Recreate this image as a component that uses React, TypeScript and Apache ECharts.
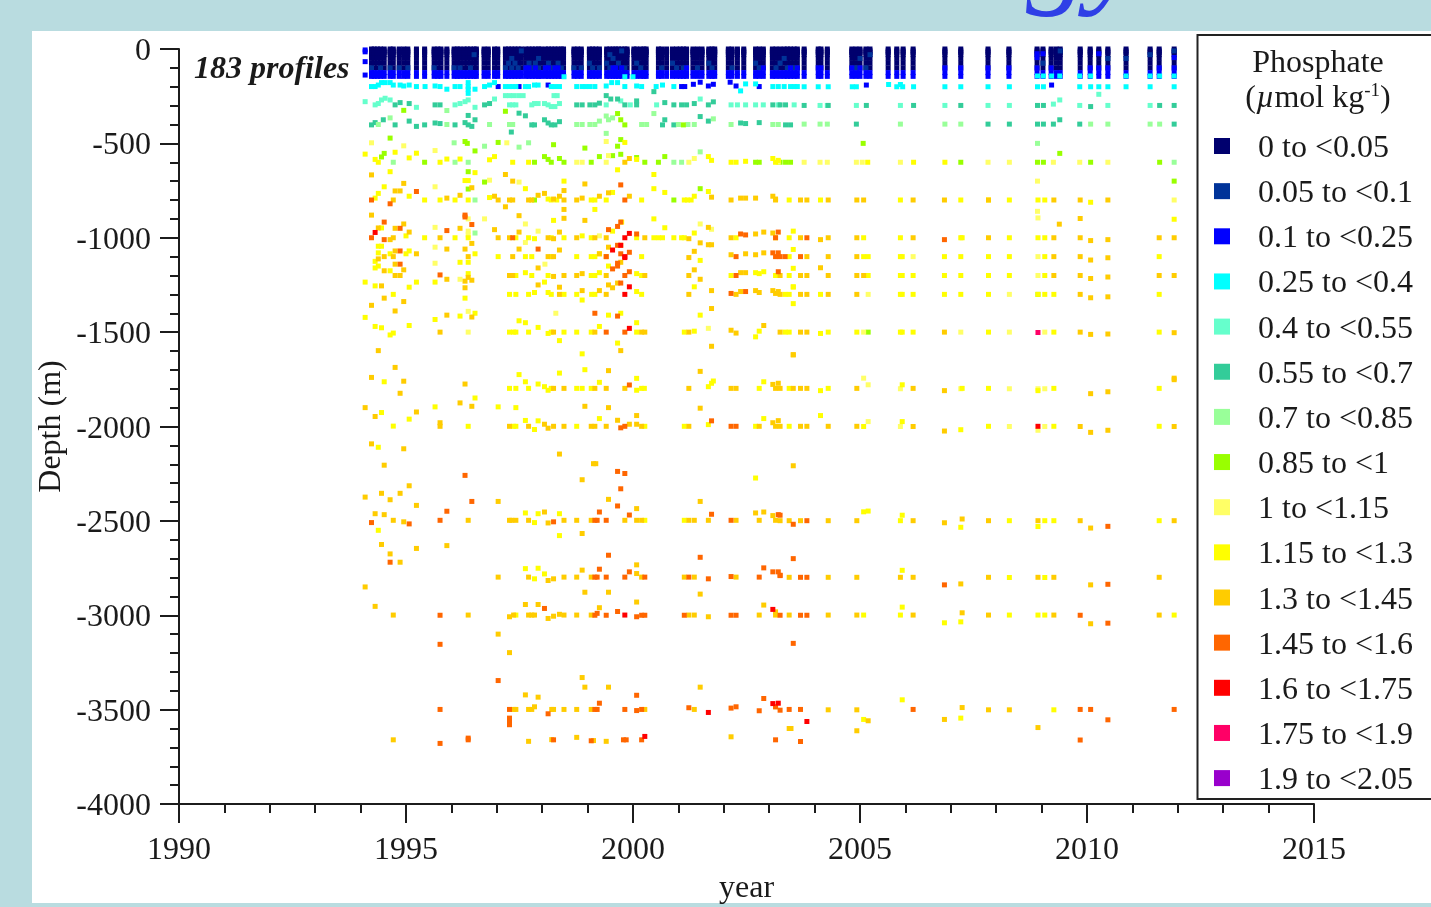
import React, { useEffect, useRef } from "react";
import * as echarts from "echarts";

const FONT = '"Liberation Serif", "Times New Roman", serif';

const legendNames = ["0 to <0.05","0.05 to <0.1","0.1 to <0.25","0.25 to <0.4","0.4 to <0.55","0.55 to <0.7","0.7 to <0.85","0.85 to <1","1 to <1.15","1.15 to <1.3","1.3 to <1.45","1.45 to <1.6","1.6 to <1.75","1.75 to <1.9","1.9 to <2.05"];
const legendColors = ["#00006e","#003399","#0000ff","#00ffff","#66ffcc","#33cc99","#99ff99","#99ff00","#ffff66","#ffff00","#ffcc00","#ff6600","#ff0000","#ff0066","#9900cc"];

// Year of each cast in the dense surface band
const castYears = [1994.24,1994.30,1994.37,1994.44,1994.52,1994.65,1994.72,1994.85,1994.95,1995.04,1995.23,1995.41,1995.62,1995.70,1995.77,1995.90,1996.06,1996.13,1996.19,1996.28,1996.35,1996.42,1996.50,1996.55,1996.72,1996.81,1996.95,1997.02,1997.19,1997.26,1997.33,1997.40,1997.47,1997.54,1997.64,1997.71,1997.78,1997.85,1997.92,1997.97,1998.07,1998.14,1998.21,1998.28,1998.35,1998.42,1998.47,1998.70,1998.78,1998.86,1999.04,1999.11,1999.18,1999.26,1999.42,1999.49,1999.56,1999.62,1999.68,1999.75,1999.82,1999.87,2000.02,2000.08,2000.17,2000.24,2000.29,2000.56,2000.63,2000.74,2000.87,2000.96,2001.04,2001.11,2001.18,2001.32,2001.42,2001.52,2001.67,2001.74,2001.80,2002.10,2002.18,2002.30,2002.44,2002.70,2002.78,2002.87,2003.07,2003.15,2003.24,2003.33,2003.40,2003.47,2003.55,2003.62,2003.77,2004.08,2004.14,2004.28,2004.82,2004.91,2005.00,2005.13,2005.22,2005.62,2005.81,2005.95,2006.17,2006.87,2007.22,2007.82,2008.28,2008.90,2009.03,2009.21,2009.32,2009.41,2009.85,2010.07,2010.26,2010.46,2010.86,2011.39,2011.59,2011.92];
const navyDepths = [0,-10,-20,-30,-50,-75,-100];
const blueDepths = [-125,-145];

// Rows are [depth, year, year, ...]
const navyRows: number[][] = [];
const darkBlueRows = [
  [-100,1994.24,1994.44,1994.65,1994.85,1995.04,1995.62,1996.06,1996.19,1996.42,1997.19,1997.33,1997.47,1997.64,1997.78,1997.92,1998.07,1998.21,1998.42,1998.70,1998.86,1999.11,1999.26,1999.49,1999.62,1999.82,2000.17,2000.63,2000.96,2001.11,2001.42,2001.74,2002.18,2002.78,2003.15,2003.40,2003.55,2004.91,2005.13],
  [-75,1997.26,1997.40,1997.71,1997.85,1998.14,1998.35,1999.04,1999.42,1999.68,2000.08,2000.87,2001.67,2002.70,2003.24,2009.03],
  [-50,1997.33,1997.92,1999.56,2003.33,2005.00,2010.46,2010.86],
  [-30,1996.50,1999.49,2005.22,2011.39],
  [-10,1997.54,1999.75,2009.41,2011.92],
];
const blueRows = [
  [-5,1994.10],[-15,1994.10],[-67,1994.10],[-138,1994.10],
  [-100,1997.64,1997.71,1997.85,1998.07,1998.14,1998.28,1998.35,1999.56,1999.62,1999.75,2001.18,2002.87,2003.47,2003.62,2004.08,2004.14,2004.82,2005.00,2006.87,2007.22,2007.82,2008.28,2008.90,2009.21,2010.07,2010.26,2010.46,2011.59,2011.92],
  [-25,2008.90,2009.03,2010.26],[-45,2008.90,2011.92],
  [-199,1997.03,1997.49,2001.07,2001.14,2002.78],[-191,1998.13,2009.22,2005.14],[-187,2001.33,2001.77],[-176,2001.48,2002.14],[-196,2001.66,2002.27],
];
const cyanRows = [
  [-199,1994.24,1994.32,1995.23,1995.42,1995.75,1996.08,1996.19,1996.37,1996.73,1997.19,1997.28,1997.35,1997.42,1997.63,1997.70,1998.20,1998.28,1998.38,1998.76,1998.88,1998.96,1999.05,1999.16,1999.82,2000.19,2000.51,2000.90,2003.08,2003.20,2003.33,2003.47,2003.55,2003.62],
  [-191,1994.39,1994.72,1994.87,1995.07,1996.84,1997.83,1997.91,2000.65],
  [-178,1994.46,1994.54,1994.65,1996.37,1996.95,1999.66,1999.53],
  [-196,1994.95,1995.64,1999.41,2000.08],
  [-213,1995.90,1996.52,1996.37],[-235,1996.37],[-222,2002.37],[-185,2002.48,2002.70],
  [-147,1998.48,1999.82,2000.00],
  [-200,2003.77,2004.08,2004.30,2004.83,2004.92,2005.81,2005.94,2006.18,2006.87,2007.22,2007.82,2008.29,2008.91,2009.04,2009.84,2010.08,2010.26,2010.46,2010.86,2011.39,2011.92],
  [-188,2005.63,2005.89],
  [-143,2008.91,2009.04,2009.22,2009.40,2009.84,2010.08,2010.86,2011.39,2011.60,2011.92],
];
const aquaRows = [
  [-279,1994.10,1996.30],[-296,1994.32,1996.08,1997.28,1997.35,1997.42,1997.77,1998.13,1999.41,1999.94,2000.52,2002.16,2002.30,2002.48,2002.70,2002.87,2003.20,2003.55],
  [-289,1994.39,1996.19,1997.83,1997.91,1998.05,1998.38],[-270,1994.46,1994.65,1996.37],[-261,1994.54],[-309,1995.23,1996.52],[-265,1996.95,2001.48],
  [-247,1997.19,1997.28,1997.37,1997.48,1997.58,1998.26,1998.33],[-305,1998.20,1998.28],[-275,1999.73],
  [-299,2004.12,2004.28,2004.92,2005.89,2006.87,2007.82,2008.29,2009.84,2010.46,2011.39],[-292,2009.26],[-270,2009.40],[-240,2010.26],
];
const tealRows = [
  [-296,1994.76,1995.64,1995.75,1996.73,1998.76,1998.88,1999.05,1999.16,1999.82,2000.08,2000.90,2001.07,2001.18,2001.66,2003.08,2003.24,2003.36],
  [-284,1994.87,2000.70],[-289,1995.07,1996.84,2001.35],[-340,1997.49],[-354,1997.63],[-287,1999.26],[-247,1999.41],[-265,1999.51,1999.66],[-275,2000.08],[-226,2000.46],[-280,2001.77],
  [-299,2003.77,2004.30,2005.14,2006.18,2007.22,2008.91,2009.04,2011.60,2011.92],[-305,2010.08],
  [-402,1994.24,1994.76,1995.41,1996.08,1996.37,1997.77,1997.83,1998.20,1998.28,2000.65,2000.90,2003.36,2003.47],[-390,1994.32,1996.30,2002.78],[-375,1994.50,1996.52,1998.05,2000.70],[-382,1995.07,2001.66],[-385,1998.38],[-410,1995.23,1996.45],[-392,1995.64,1998.13,2002.37],[-395,1995.75,2002.48],[-352,1996.37],[-440,1997.32],[-358,2001.48],
  [-398,2004.92,2007.82,2008.29,2008.91,2009.04,2009.26,2009.84,2011.92],[-375,2009.40],
];
const mintRows = [
  [-400,1994.39,1995.90,1996.84,1997.28,1997.35,1998.76,1998.88,1999.05,1999.16,2000.19,2000.30,2001.00,2001.21,2001.35,2002.16,2003.08,2003.20],
  [-365,1994.65],[-382,1999.26],[-355,1999.41],[-447,1999.41],[-375,1999.46],[-365,1999.55],[-342,2000.46],[-370,2001.77],[-600,1994.72,1996.08,1996.37,2000.90,2001.07],[-497,1996.06,1997.70],[-515,1996.73],[-520,1997.49],[-545,2001.48],[-800,1996.52],[-975,1996.52],[-326,1995.90],
  [-398,2003.77,2004.12,2004.28,2005.89,2006.87,2007.22,2010.08,2010.46,2011.39,2011.60],[-600,2011.92],[-500,2008.91],
];
const limeRows = [
  [-325,1994.95],[-330,1997.19],[-342,1999.66],[-375,1999.73],[-402,1999.82,2001.11],[-472,1994.65],[-553,1994.52],[-572,1994.46],[-600,1995.41,1997.83,1998.20,1998.48,1999.08,2000.26,2000.56,2002.70,2002.78,2003.24,2003.36,2003.47],[-540,1996.52],[-495,1997.03],[-570,1998.05,1999.26,2000.70],[-585,1998.13],[-580,1998.38],[-507,1998.25],[-525,1998.94],[-490,1996.30],[-500,1996.35],[-480,1999.73],[-515,1999.66],[-565,1999.55],[-558,1999.73],[-575,2000.08],[-650,1996.37],[-705,1996.73],[-742,1996.37],[-800,1997.83,2000.90],
  [-600,2007.22,2008.91,2009.04,2010.08,2011.60],[-553,2009.40],[-500,2005.07],[-700,2011.92],[-740,2001.48],[-1300,2008.92],[-1500,2005.18],
];
const paleRows = [
  [-497,1994.24,1997.22],[-513,1994.95],[-538,1995.64],[-600,1998.76,1998.88,1999.41,2001.23,2003.20],[-490,1999.41],[-565,1999.46],[-580,2001.35],[-695,1996.84],[-705,1997.49],[-730,1995.64],[-900,1996.37,1996.73],[-927,1997.63,2001.48],[-945,1995.64],[-965,1996.37,1997.91],[-955,2001.73],[-985,1996.37],[-1025,1997.63],[-990,1999.26],[-1050,1995.64],[-1135,1995.64],[-1140,1998.06],[-1220,1996.19],[-1390,1996.37],[-1400,1998.30],[-1480,2001.66],[-1500,1996.37],
  [-600,2003.77,2004.12,2004.28,2004.92,2005.05,2005.89,2007.82,2008.29,2009.26,2009.84,2010.46],[-860,2008.91],[-800,2011.92],[-895,2008.92],[-700,2008.91],[-1100,2006.17,2008.92],[-1200,2008.92],[-1300,2005.18,2008.29],[-1500,2005.08,2007.22,2008.29,2009.07],[-1744,2005.08],[-1779,2005.18],[-1800,2005.89,2007.22,2008.29,2008.92,2009.07],[-1974,2005.18],[-2000,2005.89,2008.29,2009.07],[-2020,2008.92],
];
const yellowRows = [
  [-557,1994.10],[-585,1994.32],[-600,1994.39,1995.75,1997.35,1997.70,2002.16,2002.27,2003.14],[-547,1994.76],[-577,1995.07],[-552,1995.23],[-583,1995.90,1996.19],[-587,1996.84],[-570,1996.95,2001.66],[-495,1999.82],[-585,2000.08],[-590,2001.73,2003.20],[-595,2002.48],[-580,2003.08],
  [-600,2005.17,2006.18,2006.87],
  [-650,1994.65],[-655,1996.52],[-697,1996.30,1996.37],[-640,1999.66],[-665,2000.46],[-700,1998.48],[-730,1994.52],[-765,1994.39],[-780,1995.07,2001.35],[-740,1997.63,2000.46],[-760,1999.55,2000.70],[-755,2001.66],
  [-790,1994.32],[-800,1995.41,1995.75,1996.08,1996.37,1998.20,1998.32,1999.08,1999.16,1999.41,2000.19,2001.13,2001.20,2001.28,2003.44,2004.13,2005.89,2007.22,2007.83,2008.29,2008.92,2009.07],[-787,1996.84],[-795,1998.13],[-812,2010.08],[-850,1999.16],[-908,1998.25],[-917,1999.75],[-900,2000.46],[-947,2000.70],[-948,1994.46],[-965,1999.55],
  [-1000,1995.41,1996.08,1996.37,1997.42,1997.70,1998.20,1998.48,1999.08,2000.08,2000.46,2000.56,2000.65,2000.90,2001.07,2001.13,2002.27,2003.14,2003.44,2005.08,2005.89,2007.22,2007.25,2008.29,2008.92,2009.07],[-1005,1997.83],[-990,1995.00,1998.88],[-975,2001.35],[-965,2003.53],[-902,2011.92],
  [-1045,1994.39,1994.46],[-1070,1995.07],[-1080,1994.39],[-1085,1994.65,1996.52,1999.26,1995.00],
  [-1100,1997.03,1997.63,1997.77,1998.20,1998.76,1999.08,1999.16,2000.19,2003.44,2005.08,2005.18,2005.89,2005.93,2006.86,2007.22,2007.83,2008.29,2009.07,2011.59],[-1125,1994.32],[-1120,2001.48],[-1130,1996.19,1996.37],[-1150,1994.39,1999.46],[-1160,1994.32],[-1175,1994.65],[-1062,2003.53],[-1162,2003.53],
  [-1185,1997.63,1999.26,2002.70],[-1190,1996.37,2000.08,2002.78],[-1200,1997.42,1997.77,1998.13,1999.08,1999.16,2000.19,2002.16,2003.14,2003.44,2005.18,2005.89,2005.93,2006.17,2006.86,2007.22,2007.83,2008.29,2009.07],[-1180,2002.88],
  [-1235,1994.10,1995.23,1995.64,1998.05],[-1255,1994.32],[-1262,1995.07],[-1260,2001.35,2003.53],[-1349,2003.53],[-1261,2003.53],
  [-1300,1997.28,1997.42,1997.70,1998.20,1998.48,1998.76,1999.09,1999.16,2000.19,1994.72,2003.35,2003.44,2004.13,2005.89,2005.93,2006.17,2006.86,2007.22,2007.83,2008.92,2009.07,2009.27,2011.59],[-1290,1997.83,1998.13],[-1320,1996.30],
  [-1330,1998.88],[-1285,2000.08],[-1422,1994.10],[-1415,1996.19],[-1400,1996.52,1999.73],[-1433,1995.64],[-1410,1999.46,2001.48],[-1440,1997.49],[-1450,1997.63,2000.08],[-1470,1994.32],[-1477,1994.46],[-1465,1995.07],[-1475,1997.91],[-1470,1999.26],
  [-1515,1994.65],[-1505,1994.72],[-1500,1997.28,1997.37,1997.42,1997.70,1998.20,1998.48,1998.76,1999.08,2000.08,2001.13,2003.35,2003.44,2004.30,2004.93,2005.89,2005.93,2006.17,2007.83,2009.27,2011.59],[-1507,1998.13,2004.13],[-1495,2001.35,2002.78],[-1525,2002.70],
  [-1545,1998.38],[-1558,1999.66],[-1615,1998.88],
  [-1763,1994.52,1997.63,2002.88],[-1849,1996.52],[-1896,1995.64,1997.03],[-1900,1997.42],[-1926,1994.46],[-1961,1995.07],[-1998,1994.72],[-1999,1996.37],[-1725,1997.49],[-1775,1997.91],[-1789,1998.05,2001.66],[-1717,1998.38],[-1699,1998.94],[-1766,1999.26],[-1745,2000.08],[-1771,2001.73],[-1759,2001.77],
  [-1798,1997.28,1997.42,1997.70,1998.20,1998.76,1998.88,1999.08,2000.25,2000.19,2002.78,2003.44,2004.30,2007.25,2007.83,2009.27,2011.59],[-1808,1998.13,2000.08],[-1810,2004.13,2008.92],[-1942,2004.13],[-1779,2005.93],
  [-1999,1997.37,1997.42,1998.76,2000.26,2001.13,2002.70,2003.44,2007.83,2009.27,2011.59],[-2016,1997.83],[-1990,2001.66],[-1970,1997.91],[-1968,1997.63],[-1958,1999.26,2002.88],[-1974,2005.93],[-2000,2005.08],[-2017,2007.22],
  [-2110,1994.39],[-2273,2002.70],[-2458,1997.63],[-2462,1997.91,1998.38],[-2578,1998.38],[-2550,1994.39],
  [-2509,1997.83],[-2497,2000.26,2001.13],[-2448,2005.18],[-2470,2005.93],[-2452,2005.08],[-2499,2005.89,2008.29,2009.07,2009.27,2011.59],[-2534,2007.22],[-2530,2008.92],
  [-2753,1997.63],[-2751,1997.91],[-2781,1998.05],[-2807,1997.83],[-2762,2005.93],[-2800,2008.29,2009.07],
  [-2999,1997.42],[-2957,2005.93],[-3040,2006.86],[-3035,2007.22],[-2999,2005.08,2005.89,2008.29,2008.92,2009.07,2011.92],
  [-3448,2005.93],[-3501,2009.27],[-3552,2005.08],[-3545,2007.22],
];
const amberRows = [
  [-600,1999.82],[-580,1999.92],[-667,1994.24],[-712,1994.95],[-752,1994.76,1994.87],[-735,1996.45],[-665,1997.19],[-700,1997.35],[-715,1998.94],[-750,1998.48],[-762,1999.46],[-785,2001.73],
  [-800,1994.72,1997.03,1997.28,1997.35,1997.70,1997.77,1998.48,1998.76,2002.16,2003.14,2003.69,2003.83,2004.30,2004.93,2005.08,2006.17,2006.86,2007.83,2009.27,2009.85,2010.46],[-790,1995.90,1998.88,2002.37,2002.48,2002.70],[-775,1996.19,1997.91],[-780,1996.95,1998.38,1999.26,1999.92,2003.08],[-836,1997.19],[-765,1998.05],[-795,1998.25,2003.14],[-850,1998.48],[-897,1998.48],[-883,1997.49],[-880,1994.24],[-927,1994.95],[-908,1998.94],[-945,2001.66],[-948,1994.39],[-950,1994.76,1996.19],[-957,1996.95],[-970,1995.07,1997.49,1998.38],[-980,2002.70],[-970,2002.88],[-975,2003.08],
  [-928,2009.39],[-898,2009.85],
  [-1000,1994.72,1995.75,1997.03,1997.28,1998.13,1998.76,1999.16,1999.41,2000.26,2002.16,2004.30,2003.69,2004.93,2006.17,2007.83,2009.27],[-1005,1998.25,2001.23],[-1010,1994.65,2004.13,2010.46],[-1015,2010.08],[-1027,2001.48],[-1037,2001.66,2001.73],[-1060,1995.90,1996.30,1997.49],[-1030,1996.45],[-1065,1998.38],[-1050,1999.46],[-1040,1999.73],[-1072,2001.35],[-1070,1994.76],[-1000,2009.85,2011.59,2011.92],
  [-1100,1994.52,1994.72,1996.37,1997.35,1998.13,1998.25,1999.41,2003.83,2004.30,2004.93,2009.27,2009.85],[-1085,1995.23,1999.26,2002.48],[-1090,2002.16,2002.70],[-1080,2002.88],[-1105,2001.23],[-1112,1994.39],[-1118,2010.08],[-1106,2010.46],[-1140,1994.76],[-1170,1994.95,2001.35],[-1160,1997.91],[-1159,2004.13],[-1130,1999.73],[-1175,1994.52],
  [-1200,1994.76,1994.87,1997.28,1997.35,1998.48,1998.76,1999.41,2000.26,2001.23,2003.24,2003.69,2003.83,2004.30,2004.93,2005.08,2009.27,2009.85,2011.59,2011.92],[-1205,1998.25],[-1190,1998.88],[-1185,2002.37,2002.48],[-1220,1995.90,2001.48],[-1230,1996.30],[-1225,1996.45],[-1210,1996.37],[-1250,1997.91,1999.46],[-1265,1996.30,1999.55],[-1240,1999.66],[-1262,1998.38],[-1255,1994.46],[-1216,2010.08],[-1208,2010.46],
  [-1300,1998.38,1999.41,2001.23,2002.27,2003.24,2003.69,2003.83,2004.30,2004.93,2009.85],[-1280,1998.88,1999.26,2001.73,2002.70],[-1285,2002.37],[-1290,2002.78],[-1320,1994.52],[-1338,1994.95],[-1358,1994.24],[-1375,2001.73],[-1388,1994.76],[-1410,1995.90],[-1420,1996.45],[-1465,2002.88],[-1280,2003.08],[-1295,2003.14],[-1285,2003.20],[-1318,2010.08],[-1313,2010.46],
  [-1500,1995.75,1998.25,1999.16,2000.19,2000.26,2001.23,2003.24,2003.69,2003.83,2006.86,2009.85],[-1490,2002.16],[-1505,2002.27],[-1512,2010.08],[-1510,2010.46],[-1503,2011.92],[-1598,1994.39,1999.73],[-1575,2001.73],[-1620,2003.53],[-1744,2011.92],[-1620,2003.53],
  [-1687,1994.76],[-1740,1994.24],[-1760,1994.95],[-1824,1994.87],[-1900,1994.10,1999.46],[-1947,1994.32],[-1923,1995.23],[-1980,1995.75],[-1999,1995.75],[-1875,1996.19],[-1775,1996.30],[-1893,1996.45,1998.94],[-1704,1999.46],[-1708,2001.48],[-1777,2003.08],[-1771,2003.20],[-1903,2001.48],
  [-1798,1998.25,1998.48,1999.16,1999.41,1999.82,2001.23,2002.16,2002.27,2003.14,2003.24,2003.53,2003.69,2003.83,2004.93,2006.17],[-1810,2006.86],[-1826,2010.08],[-1816,2010.46],[-1752,2011.92],
  [-1999,1997.28,1997.70,1998.25,1998.48,1999.08,1999.16,1999.41,2000.19,2001.23,2002.78,2003.14,2003.24,2003.69,2003.83,2004.30,2004.93],[-1967,1999.66],[-1988,1998.05,1999.92,2000.08],[-2009,1998.13],[-1942,2000.08],[-1980,2003.08],[-1969,2003.20],[-2000,2006.17,2009.85,2011.92],[-2024,2006.86],[-2031,2010.08],[-2020,2010.46],
  [-2092,1994.24],[-2118,1994.95],[-2146,1998.38],[-2205,1994.52],[-2197,1999.13,1999.18],[-2282,1998.88],[-2208,2003.53],
  [-2374,1994.10],[-2354,1994.46,1994.87],[-2388,1994.65],[-2314,1995.07],[-2418,1995.23],[-2397,1997.03,2001.48],[-2386,1999.46],[-2435,2000.08],[-2462,1994.32],[-2467,1994.52],[-2453,1998.05,2002.88],[-2458,2002.70],[-2472,2003.08],
  [-2497,1994.72,1996.37,1997.28,1997.33,1997.42,1997.70,1998.48,1998.76,1999.08,1999.82,2000.08,2000.19,2001.23,2001.35,2001.66,2002.27,2002.78,2003.14],[-2505,1994.95],[-2511,1998.13],[-2625,1994.46],[-2646,1995.23],[-2631,1995.90],[-2567,1998.88],
  [-2499,2003.24,2003.44,2003.69,2004.30,2004.93,2006.17,2007.83,2008.92,2009.85,2011.92],[-2510,2006.86],[-2490,2007.25],[-2538,2010.08],
  [-2675,1994.65],[-2719,1994.87],[-2850,1994.10],[-2953,1994.32],[-2999,1994.72,1996.37],
  [-2798,1997.03,1997.70,1998.48,1998.76,1999.08,2001.13,2001.35,2002.27],[-2816,1998.13],[-2807,1998.25],[-2761,1998.88],[-2733,2000.08],[-2779,2000.08],[-2798,2000.19],[-2878,1998.94,1999.46],[-2888,2001.48],
  [-2799,2003.44,2004.30,2004.93,2005.89,2006.17,2007.83,2008.92,2009.27,2011.59],[-2834,2007.22],[-2839,2010.08],
  [-2943,1997.63,1997.91],[-2960,1999.26],[-2930,2000.08],[-2946,2002.88],[-2982,2003.14],
  [-3008,1997.28],[-2999,1997.37,1997.70,1997.77,1997.83,1998.48,1998.76,1999.08,2001.23,2001.35,2002.78,2003.14],[-3017,1998.13],[-3005,1998.25],[-2995,1998.38],[-3008,2001.66],
  [-2999,2003.44,2004.30,2004.93,2006.17,2007.83,2009.27,2011.59],[-3045,2010.08],[-2987,2007.25],
  [-3100,1997.03],[-3198,1997.28],[-3330,1998.88],[-3381,1998.94,1999.46,2001.48],[-3422,1997.63],[-3434,1997.91],[-3485,1997.83],[-3485,2003.14],
  [-3499,1997.37,1997.42,1997.70,1997.77,1998.21,1998.25,1998.48,1998.76,1999.08,2000.26,2001.35],
  [-3501,2004.30,2004.93,2007.83,2008.29],[-3489,2007.25],[-3559,2005.18],[-3552,2006.86],[-3595,2008.92],[-3600,2003.44,2003.48],[-3612,2004.93],[-3660,1994.72],[-3668,1997.70],[-3659,1998.21],[-3647,1998.76],[-3664,1999.13],[-3668,1999.41],[-3644,2002.16],
];
const orangeRows = [
  [-800,1994.24,1999.82],[-820,1994.65],[-755,1995.23],[-720,1999.73],[-880,1996.30],
  [-917,1994.52,1999.73],[-890,1996.30],[-930,1996.45],[-940,1999.66],[-957,1999.46],[-950,1994.87],[-962,1995.90],[-980,2000.08,2002.37],[-985,2002.48],[-970,2003.20],
  [-1000,1994.24,1997.35,2003.14,2003.83],[-1010,1994.52,2006.86],[-1060,1997.91],[-1040,1999.66],[-1070,1994.87],[-1077,1999.92],
  [-1100,1999.41,2002.27,2003.14,2003.24,2003.35,2003.69],[-1085,1999.73],[-1080,2003.08,2003.20],[-1135,1999.66],[-1140,1994.87],[-1165,1999.55],[-1150,1999.66],
  [-1197,1995.75],[-1200,1999.82,2002.27],[-1180,1999.92,2003.20],[-1240,1999.73],
  [-1295,2002.16],[-1285,2002.48],[-1500,1999.41,1999.82],[-1400,1999.16],[-1415,1999.66],
  [-1780,1999.92],
  [-2007,1999.73],[-1999,1999.82,2002.16,2002.27],[-1970,2001.73],
  [-2259,1996.30],[-2238,1999.66],[-2249,1999.82],[-2330,1999.73],[-2397,1996.45],[-2449,1995.90],[-2421,1999.66],[-2453,1999.26],[-2469,1999.92],[-2465,2001.73],[-2467,2003.20],
  [-2509,1994.24],[-2516,1995.07],[-2497,1995.75,1999.16,1999.21,1999.41,2002.16],[-2505,1998.25],[-2470,2003.24],[-2518,2003.53],[-2499,2003.83],[-2529,2010.46],
  [-2719,1994.65],[-2682,1999.46],[-2756,1999.26],[-2770,1999.92,2003.08,2003.20],[-2693,2001.48],[-2749,2002.88],[-2700,2003.53],
  [-2798,1999.16,1999.21,1999.41,1999.82,2000.26,2001.23,2002.78],[-2807,2001.66],[-2795,2002.16],[-2790,2003.24],[-2799,2003.69,2003.83],[-2788,2003.24],[-2839,2006.86],[-2836,2010.46],
  [-3000,1995.75,1999.16,1999.41,2000.19,2000.26,2001.13,2002.16,2002.27,2003.24,2003.69,2003.83,2009.85],[-2964,1998.05],[-2990,1999.21],[-2980,1999.66],[-3008,2000.08],[-3042,2010.46],[-3154,1995.75],[-3149,2003.53],[-3346,1997.03],
  [-3424,2000.08],[-3466,1999.26],[-3441,2002.88],[-3485,2003.14,2002.27],
  [-3499,1995.75,1997.28,1999.16,1999.21,1999.82,2000.19,2003.44,2003.69,2006.17,2009.85,2010.08,2011.92],[-3522,1998.13],[-3505,2000.08],[-3490,2001.23],[-3492,2002.16],[-3506,2002.78],[-3503,2003.24],[-3545,1997.28],[-3563,1997.28],[-3580,1997.28],[-3554,2010.46],
  [-3679,1995.75],[-3651,1996.37],[-3660,1996.37,1998.25],[-3665,1999.08],[-3660,1999.79,1999.85,2000.19,2003.14],[-3669,2003.69],[-3661,2009.85],
];
const redRows = [
  [-972,1994.32],[-977,1999.92],[-1000,1999.82],[-1065,1999.55],[-1040,1999.73],[-1100,1999.82],[-1105,1999.82],[-1260,1999.92],[-1300,1999.82],[-1480,1999.92],
  [-2999,1999.82],[-2969,2003.08],[-3468,2003.08],[-3466,2003.20],[-3515,2001.66],[-3642,2000.26],[-3563,2003.83],[-1999,2008.92],
];
const crimsonRows = [[-1502,2008.92]];
const violetRows: number[][] = [];

navyRows.push(...navyDepths.map((d) => [d, ...castYears]));
const surfaceBlueRows = blueDepths.map((d) => [d, ...castYears]);

const classRows = [navyRows, darkBlueRows, [...surfaceBlueRows, ...blueRows], cyanRows, aquaRows, tealRows, mintRows, limeRows, paleRows, yellowRows, amberRows, orangeRows, redRows, crimsonRows, violetRows];

const toPoints = (rows: number[][]) => rows.flatMap(([depth, ...years]) => years.map((y) => [y, depth]));

const axisColor = "#1c1c1c";
const axisBase = {
  type: "value" as const,
  nameLocation: "middle" as const,
  nameTextStyle: { fontFamily: FONT, fontSize: 32, color: "#1a1a1a" },
  axisLine: { show: true, onZero: false, lineStyle: { color: axisColor, width: 2 } },
  axisTick: { show: true, length: 19, lineStyle: { color: axisColor, width: 2 } },
  minorTick: { show: true, splitNumber: 5, length: 9, lineStyle: { color: axisColor, width: 2 } },
  splitLine: { show: false },
};
const labelBase = { fontFamily: FONT, fontSize: 32, color: "#1a1a1a", formatter: (v: number) => String(v) };

export default function App() {
  const ref = useRef<HTMLDivElement>(null);
  useEffect(() => {
    const chart = echarts.init(ref.current!, undefined, { renderer: "svg" });
    chart.setOption({
      animation: false,
      grid: { left: 179, top: 49, width: 1135, height: 757, containLabel: false },
      xAxis: { ...axisBase, min: 1990, max: 2015, interval: 5, name: "year", nameGap: 66, axisLabel: { ...labelBase, margin: 28 } },
      yAxis: { ...axisBase, min: -4000, max: 0, interval: 500, name: "Depth (m)", nameGap: 112, axisLabel: { ...labelBase, margin: 28 } },
      legend: {
        show: true,
        orient: "vertical",
        left: 1209,
        top: 125,
        icon: "rect",
        itemWidth: 16,
        itemHeight: 16,
        itemGap: 13.15,
        selectedMode: false,
        data: legendNames,
        textStyle: { fontFamily: FONT, fontSize: 32, color: "#1a1a1a", lineHeight: 32, padding: [0, 0, 0, 23] },
      },
      graphic: [
        { type: "rect", z: -10, silent: true, shape: { x: 0, y: 0, width: 1431, height: 907 }, style: { fill: "#b9dce0" } },
        { type: "rect", z: -9, silent: true, shape: { x: 32, y: 31, width: 1399, height: 872 }, style: { fill: "#ffffff" } },
        { type: "rect", z: -8, silent: true, shape: { x: 1197.5, y: 35, width: 300, height: 764 }, style: { fill: "#ffffff", stroke: "#222222", lineWidth: 2 } },
        { type: "text", z: -8.5, silent: true, x: 1026, y: -115, style: { text: "gy", fontFamily: FONT, fontStyle: "italic", fontSize: 125, fill: "#2f3fe6", textVerticalAlign: "top" } },
        { type: "text", z: 10, silent: true, x: 194, y: 67, style: { text: "183 profiles", fontFamily: FONT, fontStyle: "italic", fontWeight: "bold", fontSize: 32, fill: "#1a1a1a", textVerticalAlign: "middle" } },
        { type: "text", z: 10, silent: true, x: 1318, y: 61, style: { text: "Phosphate", fontFamily: FONT, fontSize: 32, fill: "#1a1a1a", textAlign: "center", textVerticalAlign: "middle" } },
        {
          type: "text", z: 10, silent: true, x: 1318, y: 96,
          style: {
            text: "({mu|\u00b5}mol kg{sup|-1})",
            fontFamily: FONT, fontSize: 32, fill: "#1a1a1a", textAlign: "center", textVerticalAlign: "middle",
            rich: {
              mu: { fontFamily: FONT, fontSize: 32, fontStyle: "italic", fill: "#1a1a1a" },
              sup: { fontFamily: FONT, fontSize: 19, fill: "#1a1a1a", padding: [0, 0, 14, 0] },
            },
          },
        },
      ],
      series: legendNames.map((name, i) => ({
        type: "scatter",
        name,
        symbol: "rect",
        symbolSize: 5,
        itemStyle: { color: legendColors[i], opacity: 1 },
        silent: true,
        data: toPoints(classRows[i]),
      })),
    });
    return () => chart.dispose();
  }, []);
  return <div ref={ref} style={{ position: "fixed", left: 0, top: 0, width: 1431, height: 907 }} />;
}
